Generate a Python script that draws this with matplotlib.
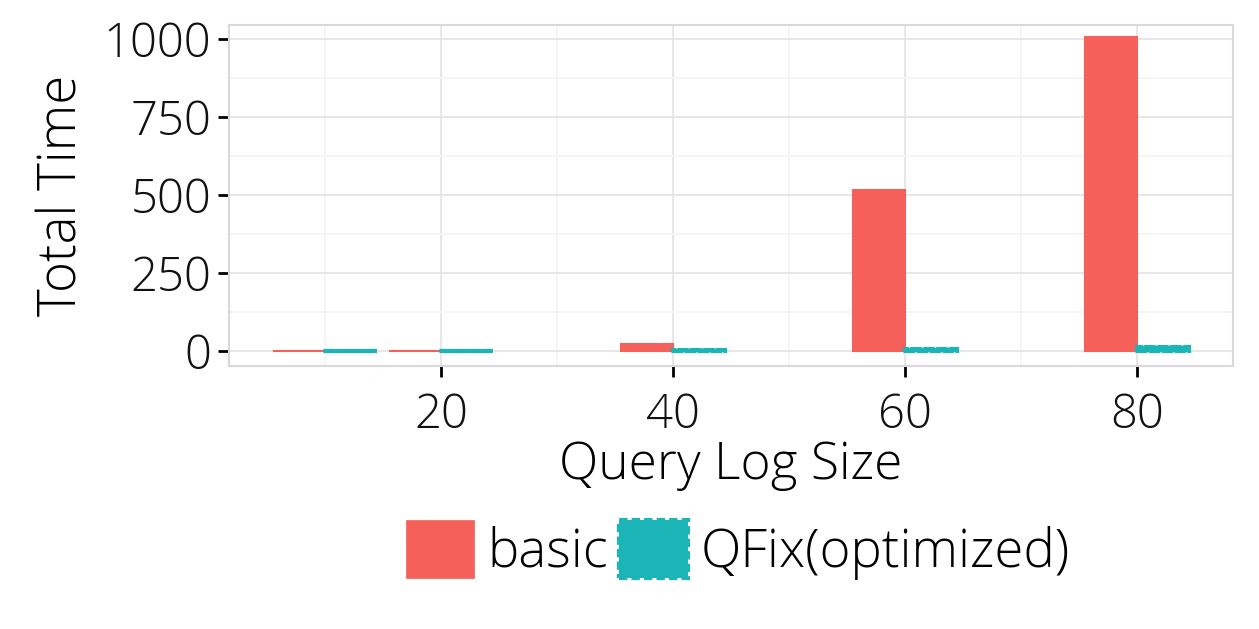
import matplotlib
matplotlib.use("Agg")
import matplotlib.pyplot as plt
from matplotlib.patches import Patch
import numpy as np

plt.rcParams['font.family'] = ['Open Sans', 'DejaVu Sans']

sizes = [10, 20, 40, 60, 80]
basic = [1, 1, 22, 515, 1005]
qfix = [0.2, 0.2, 3, 5, 12]
series_names = ["basic", "QFix(optimized)"]
red = "#F5605A"
teal = "#1BB5B8"

fig = plt.figure(figsize=(12.59, 6.29), dpi=100)
ax = fig.add_axes([229/1259, 1-366/629, (1233-229)/1259, (366-25)/629])

w = 4.5
x = np.array(sizes, dtype=float)
ax.bar(x - w/2, basic, width=w, color=red, edgecolor=red, linewidth=1.5, zorder=3)
ax.bar(x + w/2, qfix, width=w, color=teal, edgecolor=teal, linewidth=3,
       linestyle=(0, (2.2, 0.9)), capstyle='round', zorder=3)

ax.set_xlim(1.72, 88.3)
ax.set_ylim(-48, 1045)
ax.set_xticks([20, 40, 60, 80])
ax.set_yticks([0, 250, 500, 750, 1000])
ax.set_xticks([10, 30, 50, 70], minor=True)
ax.set_yticks([125, 375, 625, 875], minor=True)
ax.grid(which='major', color='#E5E5E5', linewidth=1.3, zorder=0)
ax.grid(which='minor', color='#F4F4F4', linewidth=1.3, zorder=0)
ax.set_axisbelow(True)
for s in ax.spines.values():
    s.set_color('#D9D9D9')
    s.set_linewidth(1.5)
ax.tick_params(which='major', length=8, width=2, color='black', labelsize=34,
               pad=5, labelcolor='#111111')
ax.tick_params(axis='x', pad=10)
ax.tick_params(which='minor', length=0)
for lab in ax.get_xticklabels() + ax.get_yticklabels():
    lab.set_fontweight('light')

ax.set_xlabel("Query Log Size", fontsize=37, fontweight='light', labelpad=0)
ax.set_ylabel("Total Time", fontsize=38, fontweight='light', labelpad=10)

handles = [Patch(facecolor=red, edgecolor=red, linewidth=0.5),
           Patch(facecolor=teal, edgecolor=teal, linewidth=3, linestyle=(0, (2, 1)))]
leg = fig.legend(handles, series_names, loc='center', bbox_to_anchor=(738/1259, 1-550/629),
                 ncol=2, frameon=False, fontsize=38, handlelength=1.3, handleheight=1.3,
                 handletextpad=0.25, columnspacing=0.2, borderaxespad=0)
for t in leg.get_texts():
    t.set_fontweight('light')

fig.savefig("out.png", dpi=100)
